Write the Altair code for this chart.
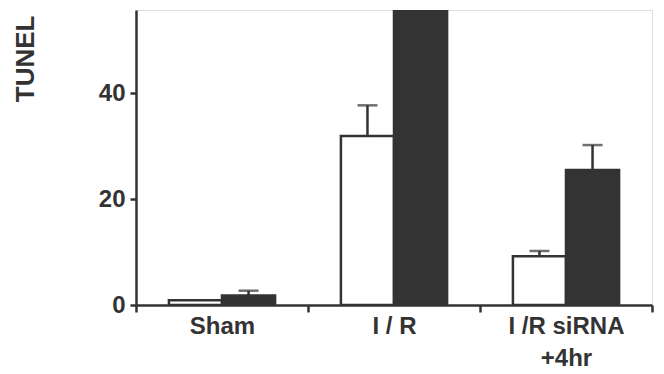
import altair as alt
import pandas as pd

groups = ["Sham", "I / R", "I /R siRNA\n+4hr"]
series = ["Control", "Treated"]
white_vals = [0.9, 31.9, 9.2]
white_err = [0.0, 5.8, 1.0]
dark_vals = [1.8, 62.0, 25.5]
dark_err = [0.9, 6.0, 4.7]
y_ticks = [0, 20, 40]

rows = []
for g, v, e in zip(groups, white_vals, white_err):
    rows.append({"group": g, "series": series[0], "value": v, "upper": v + e, "err": e})
for g, v, e in zip(groups, dark_vals, dark_err):
    rows.append({"group": g, "series": series[1], "value": v, "upper": v + e, "err": e})
df = pd.DataFrame(rows)

ink = "#333333"
x_enc = alt.X(
    "group:N", sort=groups, title=None,
    scale=alt.Scale(paddingInner=0, paddingOuter=0),
    axis=alt.Axis(
        labelAngle=0, labelFontSize=24, labelFontWeight="bold", labelColor=ink,
        labelFont="Liberation Sans", labelPadding=2, labelLineHeight=32,
        labelExpr="split(datum.label, '\\n')",
        tickBand="extent", tickSize=7, tickWidth=2.5, tickColor=ink,
        domainColor=ink, domainWidth=2.5, labelBaseline="top",
    ),
)
xoff = alt.XOffset("series:N", sort=series,
                   scale=alt.Scale(paddingInner=0, paddingOuter=0.62))
y_scale = alt.Scale(domain=[0, 55.7], nice=False, clamp=True)

bars = alt.Chart(df).mark_bar(stroke=ink, strokeWidth=2.5, clip=True).encode(
    x=x_enc,
    xOffset=xoff,
    y=alt.Y("value:Q", scale=y_scale, title="TUNEL",
            axis=alt.Axis(values=y_ticks, grid=False, labelFontSize=24,
                          labelFontWeight="bold", labelColor=ink,
                          labelFont="Liberation Sans", labelPadding=5,
                          tickSize=6, tickWidth=2.5, tickColor=ink,
                          domainColor=ink, domainWidth=2.5,
                          titleFontSize=26, titleFontWeight="bold",
                          titleFont="Liberation Sans", titleColor=ink,
                          titleAngle=-90, titleAlign="right",
                          titleBaseline="middle", titleX=-111, titleY=5)),
    fill=alt.Fill("series:N", sort=series,
                  scale=alt.Scale(domain=series, range=["#ffffff", ink]),
                  legend=None),
)

err_df = df[df["err"] > 0]
stems = alt.Chart(err_df).mark_rule(color=ink, strokeWidth=2.5, clip=True).encode(
    x=alt.X("group:N", sort=groups),
    xOffset=xoff,
    y=alt.Y("value:Q", scale=y_scale),
    y2="upper:Q",
)
caps = alt.Chart(err_df).mark_tick(color=ink, thickness=2.5, size=20, orient="horizontal", clip=True).encode(
    x=alt.X("group:N", sort=groups),
    xOffset=xoff,
    y=alt.Y("upper:Q", scale=y_scale),
)

chart = alt.layer(bars, stems, caps).properties(
    width=516, height=295,
    padding={"left": 128, "top": 2, "right": 4, "bottom": 66},
    autosize=alt.AutoSizeParams(type="none"),
).configure_view(stroke=None).configure(background="white")

chart.save("out.html", embed_options={"renderer": "svg", "actions": False})
